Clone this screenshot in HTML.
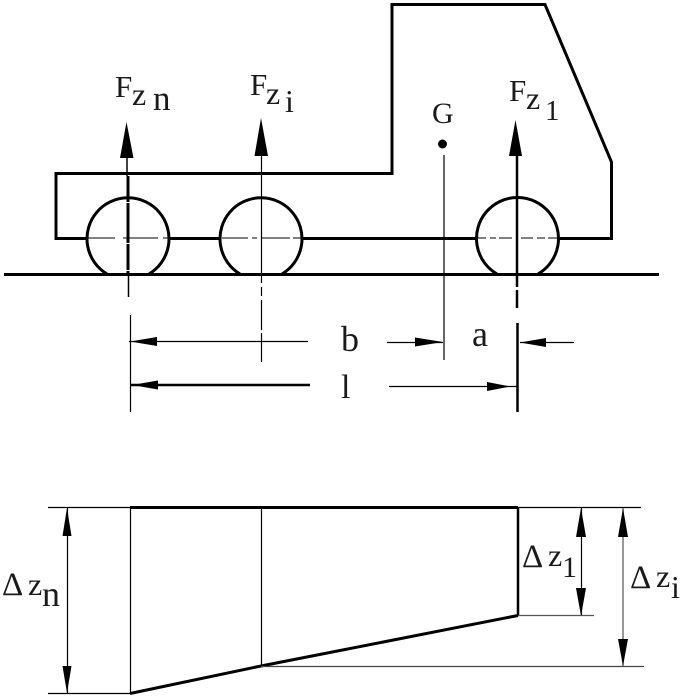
<!DOCTYPE html>
<html><head><meta charset="utf-8"><style>
html,body{margin:0;padding:0;background:#fff}
svg{display:block}
text{font-family:"Liberation Serif",serif;fill:#1a1a1a}
</style></head><body>
<svg width="685" height="700" viewBox="0 0 685 700" xmlns="http://www.w3.org/2000/svg">
<rect width="685" height="700" fill="#fff"/>
<!-- body -->
<path d="M56 173.500H392V4.500H545L611.500 162V238.500H56Z" fill="none" stroke="#000" stroke-width="3"/>
<!-- wheels -->
<g fill="#fff" stroke="#000" stroke-width="3">
<path d="M107 274A41 41 0 1 1 149 274"/>
<path d="M240 274A41 41 0 1 1 282 274"/>
<path d="M497 274A41 41 0 1 1 538 274"/>
</g>
<!-- wheel centre lines -->
<g stroke="#000" stroke-width="1">
<path d="M87 238H115M123 238H158M163 238H169"/>
<path d="M222 238H248M252 238H257M261 238H290M293 238H302"/>
<path d="M478 238H486M490 238H496M499 238H512M521 238H533M537 238H545M548 238H557"/>
</g>
<!-- ground -->
<path d="M4 274.500H659" stroke="#000" stroke-width="3"/>
<!-- force lines -->
<path d="M127 155V176" stroke="#000" stroke-width="1.500"/>
<path d="M128 176V274" stroke="#000" stroke-width="3" stroke-dasharray="26 1 40 1"/>
<path d="M128.500 274V297" stroke="#000" stroke-width="1.500"/>
<path d="M261.500 155V283M261.500 287V296M261.500 300V330M261.500 333V362" stroke="#000" stroke-width="1.200"/>
<path d="M517 155V287M517 290V308M517.500 323V412" stroke="#000" stroke-width="2.500"/>
<path d="M444 155V360" stroke="#000" stroke-width="1.200"/>
<path d="M130.500 315V412" stroke="#000" stroke-width="1.200"/>
<!-- arrowheads up -->
<g fill="#000">
<path d="M126.500 122L133.500 158H120Z"/>
<path d="M261 118L268 156H254.500Z"/>
<path d="M515.500 120L522 156H509Z"/>
</g>
<circle cx="442.500" cy="144" r="4.500" fill="#000"/>
<!-- dimensions -->
<path d="M129 341.500H308M387 342.500H443M520 342.500H574" stroke="#000" stroke-width="1.200" fill="none"/>
<path d="M130 385H310" stroke="#000" stroke-width="2.500"/>
<path d="M389 386.500H517" stroke="#000" stroke-width="1.300"/>
<g fill="#000">
<path d="M130 341.500L157 337V346Z"/>
<path d="M443 342L415 337.500V346.500Z"/>
<path d="M520 342.500L546 338V347Z"/>
<path d="M132 385L158 380.500V389.500Z"/>
<path d="M510 386.500L487 382V391Z"/>
</g>
<!-- lower diagram -->
<path d="M130 507.500H518" stroke="#000" stroke-width="3"/>
<path d="M48 507.500H130M518 507.500H641M48 693.500H130" stroke="#000" stroke-width="1.200"/>
<path d="M130.500 507V693M261.500 507V666" stroke="#000" stroke-width="1.200"/>
<path d="M518 507V616" stroke="#000" stroke-width="2.500"/>
<path d="M130 693.500L261 666L518 615.500" stroke="#000" stroke-width="3" fill="none"/>
<path d="M518 615.500H594" stroke="#555" stroke-width="1.200"/>
<path d="M261 666.500H644" stroke="#444" stroke-width="1.200"/>
<path d="M67.500 508V693M581.500 508V615" stroke="#000" stroke-width="1.200"/>
<path d="M623 508V666" stroke="#777" stroke-width="1.500"/>
<g fill="#000">
<path d="M67 508L71.500 536H62.500Z"/>
<path d="M67 693L62.500 666H71.500Z"/>
<path d="M581 508L586 537H576Z"/>
<path d="M581 616L576 588H586Z"/>
<path d="M623 508L628 537H618Z"/>
<path d="M623 666L618 639H628Z"/>
</g>
<!-- labels -->
<text x="115" y="97" font-size="31">F</text>
<text x="132" y="105" font-size="32">z</text>
<text x="153" y="110" font-size="35">n</text>
<text x="250" y="95" font-size="31">F</text>
<text x="266" y="104" font-size="32">z</text>
<text x="285" y="112" font-size="32">i</text>
<text x="509" y="101" font-size="31">F</text>
<text x="526" y="109" font-size="32">z</text>
<text x="545" y="120" font-size="29">1</text>
<text x="432" y="123" font-size="30">G</text>
<text x="341" y="351" font-size="36">b</text>
<text x="472" y="346" font-size="36">a</text>
<text x="341" y="398" font-size="34">l</text>
<text x="2" y="595" font-size="33">Δ</text>
<text x="28" y="595" font-size="32">z</text>
<text x="42" y="606" font-size="36">n</text>
<text x="522" y="567" font-size="33">Δ</text>
<text x="548" y="566" font-size="32">z</text>
<text x="562" y="577" font-size="30">1</text>
<text x="630" y="588" font-size="33">Δ</text>
<text x="656" y="587" font-size="32">z</text>
<text x="671" y="598" font-size="32">i</text>
</svg>
</body></html>
